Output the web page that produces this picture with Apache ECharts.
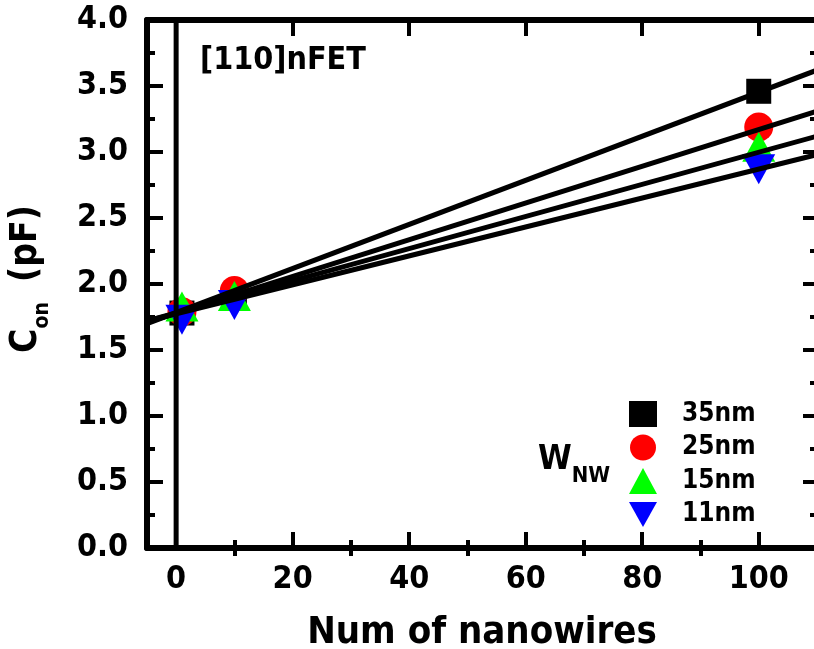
<!DOCTYPE html>
<html><head><meta charset="utf-8">
<script src="https://cdn.jsdelivr.net/npm/echarts@6/dist/echarts.min.js"></script>
<style>html,body{margin:0;padding:0;background:#fff}#c{width:814px;height:649px}</style>
</head><body><div id="c"></div>
<script>
const FONT = '"DejaVu Sans Condensed", "Liberation Sans Narrow", "Liberation Sans", Arial, sans-serif';
const xVals = [1, 10, 100];
const s35 = [1.78, 1.90, 3.46];
const s25 = [1.79, 1.95, 3.19];
const s15 = [1.83, 1.91, 3.04];
const s11 = [1.73, 1.84, 2.87];
const fitX = [-5, 110];
const fit35 = [1.70, 3.62];
const fit25 = [1.71, 3.31];
const fit15 = [1.72, 3.12];
const fit11 = [1.72, 2.98];
const seriesNames = ['35nm', '25nm', '15nm', '11nm'];
const majorX = [0, 20, 40, 60, 80, 100];
const minorX = [10, 30, 50, 70, 90];
const zeroLineY = [0, 4];

const pts = (ys) => xVals.map((x, i) => [x, ys[i]]);
const fit = (ys) => fitX.map((x, i) => [x, ys[i]]);
const downTri = 'path://M0,0L20,0L10,18Z';

const chart = echarts.init(document.getElementById('c'), null, {renderer: 'canvas'});
const baseX = {type: 'value', min: -5, max: 110, splitLine: {show: false}};
const lineStyle = {color: '#000', width: 6};
chart.setOption({
  animation: false,
  grid: {left: 147, top: 20, right: -3, bottom: 101, show: false, containLabel: false, outerBoundsMode: 'none'},
  xAxis: [
    Object.assign({}, baseX, {position: 'bottom', axisLine: {show: true, onZero: false, lineStyle},
      axisTick: {inside: true, length: 16, customValues: majorX, lineStyle: {width: 4, color: '#000'}},
      axisLabel: {customValues: majorX, margin: 16, fontFamily: FONT, fontWeight: 'bold', fontSize: 32, color: '#000'},
      name: 'Num of nanowires', nameLocation: 'middle', nameGap: 66,
      nameTextStyle: {fontFamily: FONT, fontWeight: 'bold', fontSize: 38, color: '#000'}}),
    Object.assign({}, baseX, {position: 'bottom', axisLine: {show: false},
      axisTick: {inside: true, length: 8, customValues: minorX, lineStyle: {width: 4, color: '#000'}},
      axisLabel: {show: false}}),
    Object.assign({}, baseX, {position: 'top', axisLine: {show: true, onZero: false, lineStyle},
      axisTick: {inside: true, length: 16, customValues: majorX, lineStyle: {width: 4, color: '#000'}},
      axisLabel: {show: false}}),
    Object.assign({}, baseX, {position: 'top', axisLine: {show: false},
      axisTick: {inside: true, length: 8, customValues: minorX, lineStyle: {width: 4, color: '#000'}},
      axisLabel: {show: false}})
  ],
  yAxis: [
    {type: 'value', min: 0, max: 4, interval: 0.5, position: 'left', splitLine: {show: false},
      axisLine: {show: true, onZero: false, lineStyle},
      axisTick: {inside: true, length: 16, lineStyle: {width: 4, color: '#000'}},
      minorTick: {show: true, splitNumber: 2, length: 8, lineStyle: {width: 4, color: '#000'}},
      axisLabel: {margin: 19, fontFamily: FONT, fontWeight: 'bold', fontSize: 32, color: '#000',
        formatter: (v) => v.toFixed(1)},
      name: '{c|C}{s|on}{p|(pF)}', nameLocation: 'middle', nameGap: 102, nameRotate: 90,
      nameTextStyle: {padding: [0, 0, 0, 10], rich: {
        c: {fontFamily: FONT, fontWeight: 'bold', fontSize: 37, color: '#000', verticalAlign: 'bottom'},
        s: {fontFamily: FONT, fontWeight: 'bold', fontSize: 21, color: '#000', verticalAlign: 'bottom', padding: [0, 0, -8, 0]},
        p: {fontFamily: FONT, fontWeight: 'bold', fontSize: 37, color: '#000', verticalAlign: 'bottom', padding: [0, 0, 0, 20]}
      }}},
    {type: 'value', min: 0, max: 4, interval: 0.5, position: 'right', splitLine: {show: false},
      axisLine: {show: true, onZero: false, lineStyle},
      axisTick: {inside: true, length: 14, lineStyle: {width: 4, color: '#000'}},
      minorTick: {show: true, splitNumber: 2, length: 7, lineStyle: {width: 4, color: '#000'}},
      axisLabel: {show: false}}
  ],
  legend: {
    orient: 'vertical', left: 624, top: 396, itemWidth: 28, itemHeight: 26, itemGap: 7.5,
    textStyle: {fontFamily: FONT, fontWeight: 'bold', fontSize: 26, color: '#000', padding: [0, 0, 0, 20]},
    data: [
      {name: '35nm', icon: 'rect', itemStyle: {color: '#000'}},
      {name: '25nm', icon: 'circle'},
      {name: '15nm', icon: 'triangle'},
      {name: '11nm', icon: downTri}
    ]
  },
  graphic: [
    {type: 'text', left: 200, top: 45, style: {text: '[110]nFET', fontFamily: FONT, fontWeight: 'bold', fontSize: 32, fill: '#000'}},
    {type: 'text', left: 538, top: 443, style: {text: '{w|W}{n|NW}', rich: {
      w: {fontFamily: FONT, fontWeight: 'bold', fontSize: 34, fill: '#000', verticalAlign: 'bottom'},
      n: {fontFamily: FONT, fontWeight: 'bold', fontSize: 22, fill: '#000', verticalAlign: 'bottom', padding: [0, 0, -10, 0]}
    }}}
  ],
  series: [
    {name: '35nm', type: 'scatter', data: pts(s35), symbol: 'rect', symbolSize: 25, itemStyle: {color: '#000', opacity: 1}, z: 2},
    {name: '25nm', type: 'scatter', data: pts(s25), symbol: 'circle', symbolSize: 29, itemStyle: {color: '#ff0000', opacity: 1}, z: 3},
    {name: '15nm', type: 'scatter', data: pts(s15), symbol: 'triangle', symbolSize: [33, 30], itemStyle: {color: '#00ff00', opacity: 1}, z: 4},
    {name: '11nm', type: 'scatter', data: pts(s11), symbol: downTri, symbolSize: [33, 30], itemStyle: {color: '#0000ff', opacity: 1}, z: 5},
    {type: 'line', data: fit(fit35), symbol: 'none', lineStyle: {color: '#000', width: 5}, z: 6, clip: true, silent: true},
    {type: 'line', data: fit(fit25), symbol: 'none', lineStyle: {color: '#000', width: 5}, z: 6, clip: true, silent: true},
    {type: 'line', data: fit(fit15), symbol: 'none', lineStyle: {color: '#000', width: 5}, z: 6, clip: true, silent: true},
    {type: 'line', data: fit(fit11), symbol: 'none', lineStyle: {color: '#000', width: 5}, z: 6, clip: true, silent: true},
    {type: 'line', data: zeroLineY.map(y => [0, y]), symbol: 'none', lineStyle: {color: '#000', width: 5}, z: 6, silent: true}
  ]
});
</script></body></html>
